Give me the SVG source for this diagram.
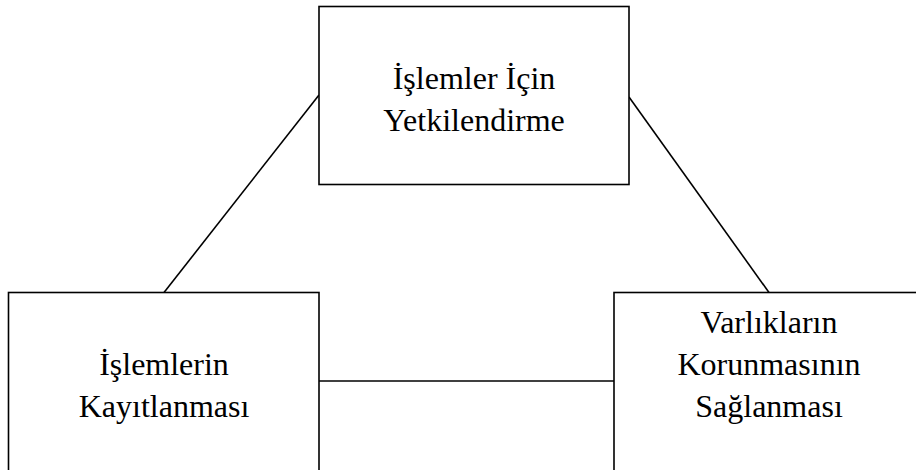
<svg xmlns="http://www.w3.org/2000/svg" width="916" height="470" viewBox="0 0 916 470">
<style>
.box{fill:#fff;stroke:#000;stroke-width:1.6}
.ln{stroke:#000;stroke-width:1.6;fill:none}
text{font-family:"Liberation Serif","Times New Roman",serif;font-size:32px;fill:#000;text-anchor:middle}
</style>
<rect width="916" height="470" fill="#fff"/>
<g id="connectors">
<line class="ln" x1="319" y1="95" x2="164" y2="292.5"/>
<line class="ln" x1="629" y1="97" x2="769" y2="292.5"/>
<line class="ln" x1="319" y1="381" x2="614" y2="381"/>
</g>
<g id="node-top">
<rect class="box" x="319" y="6.5" width="310" height="178"/>
<text x="474" y="89">İşlemler İçin</text>
<text x="474" y="131">Yetkilendirme</text>
</g>
<g id="node-left">
<rect class="box" x="8.5" y="292.5" width="310.5" height="190"/>
<text x="164" y="375">İşlemlerin</text>
<text x="164" y="417">Kayıtlanması</text>
</g>
<g id="node-right">
<rect class="box" x="614" y="292.5" width="320" height="190"/>
<text x="769" y="333">Varlıkların</text>
<text x="769" y="375">Korunmasının</text>
<text x="769" y="417">Sağlanması</text>
</g>
</svg>
